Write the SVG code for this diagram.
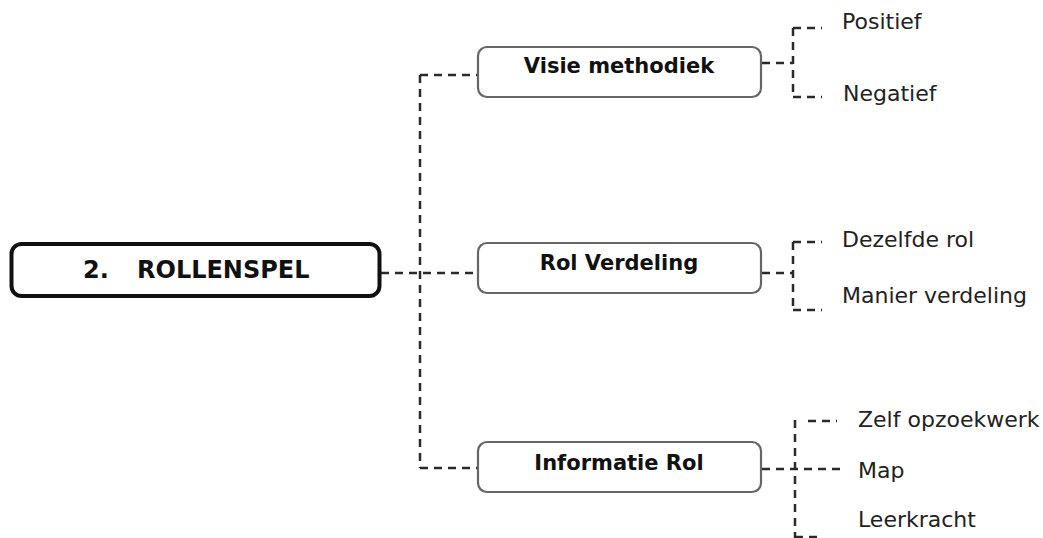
<svg xmlns="http://www.w3.org/2000/svg" width="1043" height="538" viewBox="0 0 1043 538">
<style>
.main{fill:#fff;stroke:#111;stroke-width:4}
.box{fill:#fff;stroke:#666;stroke-width:2.2}
.bt{font-family:"DejaVu Sans",Verdana,sans-serif;font-weight:bold;font-size:21px;fill:#111;text-anchor:middle}
.mt{font-family:"DejaVu Sans",Verdana,sans-serif;font-weight:bold;font-size:24px;fill:#111}
.lt{font-family:"DejaVu Sans",Verdana,sans-serif;font-size:22px;fill:#222}
.c{fill:none;stroke:#2a2a2a;stroke-width:2.5;stroke-dasharray:8 6}
</style>
<rect width="1043" height="538" fill="#fff"/>
<g id="connectors">
<path class="c" d="M381 273H477"/>
<path class="c" d="M420 75V468"/>
<path class="c" d="M420 75H477"/>
<path class="c" d="M420 468H477"/>
<path class="c" d="M762 63H793"/>
<path class="c" d="M793 28V97"/>
<path class="c" d="M793 28H822"/>
<path class="c" d="M793 97H822"/>
<path class="c" d="M762 273H793"/>
<path class="c" d="M793 242V310"/>
<path class="c" d="M793 242H822"/>
<path class="c" d="M793 310H822"/>
<path class="c" d="M762 469H840"/>
<path class="c" d="M795 420V538"/>
<path class="c" d="M808 421H837"/>
<path class="c" d="M795 537H822"/>
</g>
<g id="node-rollenspel">
<rect class="main" x="11.5" y="244" width="368" height="52" rx="10"/>
<text class="mt" y="278"><tspan x="83">2.</tspan><tspan x="137">ROLLENSPEL</tspan></text>
</g>
<g id="node-visie">
<rect class="box" x="478" y="47" width="283" height="50" rx="9"/>
<text class="bt" x="619" y="73">Visie methodiek</text>
</g>
<g id="node-rol">
<rect class="box" x="478" y="243" width="283" height="50" rx="9"/>
<text class="bt" x="619" y="270">Rol Verdeling</text>
</g>
<g id="node-informatie">
<rect class="box" x="478" y="442" width="283" height="50" rx="9"/>
<text class="bt" x="619" y="470">Informatie Rol</text>
</g>
<g id="leaf-positief"><text class="lt" x="842" y="29">Positief</text></g>
<g id="leaf-negatief"><text class="lt" x="843" y="101">Negatief</text></g>
<g id="leaf-dezelfde"><text class="lt" x="842" y="247">Dezelfde rol</text></g>
<g id="leaf-manier"><text class="lt" x="842" y="303">Manier verdeling</text></g>
<g id="leaf-zelf"><text class="lt" x="858" y="427">Zelf opzoekwerk</text></g>
<g id="leaf-map"><text class="lt" x="858" y="478">Map</text></g>
<g id="leaf-leerkracht"><text class="lt" x="858" y="527">Leerkracht</text></g>
</svg>
